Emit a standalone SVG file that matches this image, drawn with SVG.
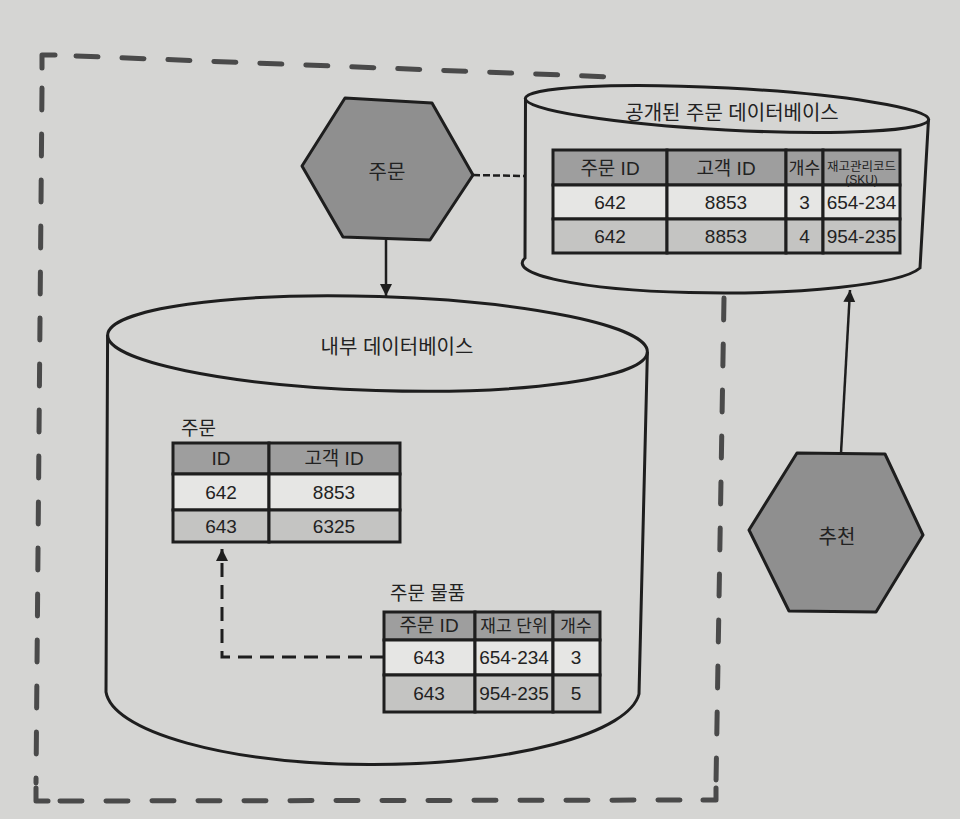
<svg xmlns="http://www.w3.org/2000/svg" width="960" height="819" viewBox="0 0 960 819">
<defs>
<style>
text{font-family:"Liberation Sans","Noto Sans CJK KR",sans-serif;fill:#222;}
.t{font-size:19px;text-anchor:middle;}
.ts{font-size:17px;text-anchor:middle;}
.lbl{font-size:19px;}
.db{fill:none;stroke:#1e1e1e;stroke-width:3;}
.hex{fill:#8f8f8f;stroke:#1e1e1e;stroke-width:3;stroke-linejoin:round;}
.hd{fill:#9e9e9e;stroke:#1e1e1e;stroke-width:3;}
.r1{fill:#e6e6e4;stroke:#1e1e1e;stroke-width:3;}
.r2{fill:#c4c4c2;stroke:#1e1e1e;stroke-width:3;}
.bound{fill:none;stroke:#4a4a4a;stroke-width:5;stroke-linecap:round;stroke-dasharray:22 24;}
.corner{fill:none;stroke:#4a4a4a;stroke-width:5;stroke-linecap:round;stroke-linejoin:round;}
.conn{fill:none;stroke:#1e1e1e;stroke-width:2.5;}
</style>
<marker id="ah" markerUnits="userSpaceOnUse" markerWidth="14" markerHeight="14" refX="12" refY="6" orient="auto">
<path d="M0,0 L12,6 L0,12 Z" fill="#1e1e1e"/>
</marker>
</defs>
<rect x="0" y="0" width="960" height="819" fill="#d5d5d3"/>

<g id="boundary">
<line class="bound" x1="76" y1="56" x2="612" y2="77"/>
<line class="bound" x1="42" y1="88" x2="36" y2="783"/>
<line class="bound" x1="60" y1="801" x2="700" y2="800"/>
<line class="bound" x1="724" y1="298" x2="716" y2="783"/>
<path class="corner" d="M42,68 L42,55 L55,55"/>
<path class="corner" d="M36,788 L36,801 L48,801"/>
<path class="corner" d="M703,800 L716,800 L716,788"/>
</g>

<g id="public-db">
<path class="db" d="M525.5,98.5 L525,258 A200,30 0 0 0 920,268 L928.5,119.5"/>
<ellipse class="db" cx="727" cy="109" rx="202" ry="21" transform="rotate(3 727 109)"/>
<text class="t" x="732" y="120" style="font-size:20px">공개된 주문 데이터베이스</text>
<g id="public-table">
<rect class="hd" x="553" y="150" width="114" height="35"/>
<rect class="hd" x="667" y="150" width="119" height="35"/>
<rect class="hd" x="786" y="150" width="37" height="35"/>
<rect class="hd" x="823" y="150" width="77" height="35"/>
<rect class="r1" x="553" y="185" width="114" height="34"/>
<rect class="r1" x="667" y="185" width="119" height="34"/>
<rect class="r1" x="786" y="185" width="37" height="34"/>
<rect class="r1" x="823" y="185" width="77" height="34"/>
<rect class="r2" x="553" y="219" width="114" height="34"/>
<rect class="r2" x="667" y="219" width="119" height="34"/>
<rect class="r2" x="786" y="219" width="37" height="34"/>
<rect class="r2" x="823" y="219" width="77" height="34"/>
<text class="t" x="610" y="175">주문 ID</text>
<text class="t" x="726" y="175">고객 ID</text>
<text class="ts" x="804.5" y="174">개수</text>
<text class="t" x="861.5" y="171" style="font-size:12.5px">재고관리코드</text>
<text class="t" x="861.5" y="184" style="font-size:12px">(SKU)</text>
<text class="t" x="610" y="209">642</text>
<text class="t" x="726" y="209">8853</text>
<text class="t" x="804.5" y="209">3</text>
<text class="t" x="861.5" y="209">654-234</text>
<text class="t" x="610" y="243">642</text>
<text class="t" x="726" y="243">8853</text>
<text class="t" x="804.5" y="243">4</text>
<text class="t" x="861.5" y="243">954-235</text>
</g>
</g>

<g id="order-service">
<polygon class="hex" points="345,98 432,103 473,175 430,240 343,237 302,166"/>
<text class="t" x="387" y="179" style="font-size:20px">주문</text>
</g>

<g id="recommend-service">
<polygon class="hex" points="797,453 885,454 923,535 876,612 789,611 749,530"/>
<text class="t" x="837" y="544" style="font-size:20px">추천</text>
</g>

<g id="internal-db">
<path class="db" d="M107.6,335 L106,692 A267,76 0 0 0 639,694 L647.4,352"/>
<ellipse class="db" cx="377.5" cy="343.5" rx="270" ry="47" transform="rotate(1.8 377.5 343.5)"/>
<text class="t" x="397" y="354" style="font-size:20px">내부 데이터베이스</text>
<g id="orders-table">
<text class="lbl" x="181" y="435">주문</text>
<rect class="hd" x="173" y="443" width="96" height="31"/>
<rect class="hd" x="269" y="443" width="131" height="31"/>
<rect class="r1" x="173" y="474" width="96" height="36"/>
<rect class="r1" x="269" y="474" width="131" height="36"/>
<rect class="r2" x="173" y="510" width="96" height="32"/>
<rect class="r2" x="269" y="510" width="131" height="32"/>
<text class="t" x="221" y="465">ID</text>
<text class="t" x="334" y="465">고객 ID</text>
<text class="t" x="221" y="499">642</text>
<text class="t" x="334" y="499">8853</text>
<text class="t" x="221" y="533">643</text>
<text class="t" x="334" y="533">6325</text>
</g>
<g id="order-items-table">
<text class="lbl" x="390" y="600">주문 물품</text>
<rect class="hd" x="384" y="612" width="91" height="28"/>
<rect class="hd" x="475" y="612" width="78" height="28"/>
<rect class="hd" x="553" y="612" width="47" height="28"/>
<rect class="r1" x="384" y="640" width="91" height="35"/>
<rect class="r1" x="475" y="640" width="78" height="35"/>
<rect class="r1" x="553" y="640" width="47" height="35"/>
<rect class="r2" x="384" y="675" width="91" height="37"/>
<rect class="r2" x="475" y="675" width="78" height="37"/>
<rect class="r2" x="553" y="675" width="47" height="37"/>
<text class="t" x="429" y="632">주문 ID</text>
<text class="ts" x="514" y="632">재고 단위</text>
<text class="ts" x="576" y="632">개수</text>
<text class="t" x="429" y="664">643</text>
<text class="t" x="514" y="664">654-234</text>
<text class="t" x="576" y="664">3</text>
<text class="t" x="429" y="700">643</text>
<text class="t" x="514" y="700">954-235</text>
<text class="t" x="576" y="700">5</text>
</g>
</g>

<g id="connectors">
<line class="conn" x1="473" y1="175" x2="525" y2="176" style="stroke-dasharray:7 3"/>
<line class="conn" x1="386" y1="240" x2="386" y2="296" marker-end="url(#ah)"/>
<line class="conn" x1="841" y1="453" x2="850" y2="290" marker-end="url(#ah)"/>
<path class="conn" d="M384,657 L222,657 L222,549" style="stroke-width:3;stroke-dasharray:14 8" marker-end="url(#ah)"/>
</g>
</svg>
